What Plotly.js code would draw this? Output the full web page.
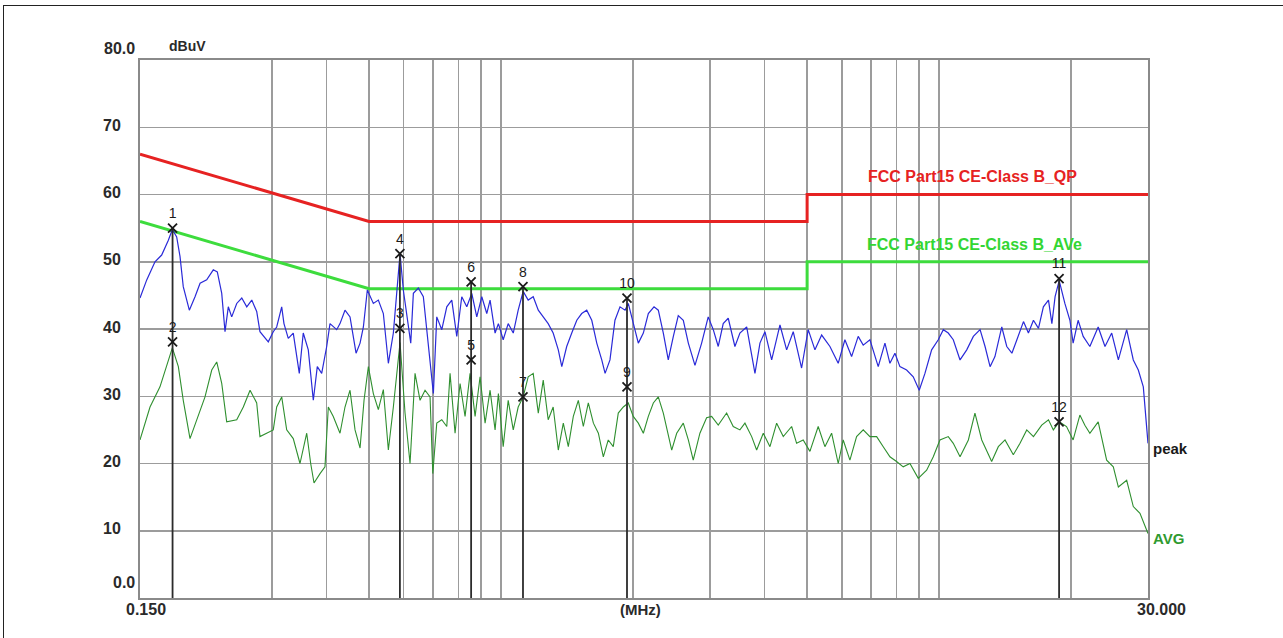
<!DOCTYPE html>
<html><head><meta charset="utf-8">
<script src="https://cdn.plot.ly/plotly-3.0.1.min.js"></script>
<style>
html,body{margin:0;padding:0;background:#fff;overflow:hidden}
#chart{position:absolute;left:0;top:0;width:1283px;height:638px}
#frame{position:absolute;left:3px;top:5px;width:1300px;height:650px;border-top:1.5px solid #222;border-left:1.5px solid #222;pointer-events:none}
</style></head><body>
<div id="chart"></div><div id="frame"></div>
<script>
// ---- data (frequency in MHz, level in dBuV) ----
const peakFreq = [0.150,0.1554,0.1623,0.1681,0.1741,0.1778,0.1819,0.1851,0.1883,0.1944,
0.2003,0.2057,0.2130,0.2205,0.2252,0.2305,0.2345,0.2386,0.2429,0.2494,
0.2561,0.2629,0.2699,0.2770,0.2818,0.2944,0.3022,0.3077,0.3159,0.3197,
0.3270,0.3357,0.3465,0.3538,0.3633,0.3730,0.3809,0.3898,0.4002,0.4072,
0.4218,0.4292,0.4406,0.4524,0.4670,0.4769,0.4853,0.4955,0.5114,0.5250,
0.5390,0.5534,0.5681,0.5783,0.5884,0.5987,0.6095,0.6225,0.6311,0.6479,
0.6651,0.6771,0.6916,0.7011,0.7137,0.7328,0.7523,0.7723,0.7929,0.8140,
0.8357,0.8579,0.8808,0.9043,0.9283,0.9446,0.9698,0.9868,1.012,1.039,
1.067,1.095,1.124,1.154,1.185,1.217,1.249,1.282,1.316,1.352,
1.377,1.413,1.451,1.490,1.529,1.570,1.612,1.655,1.699,1.729,
1.774,1.821,1.870,1.920,1.953,2.005,2.059,2.114,2.170,2.236,
2.287,2.348,2.410,2.475,2.540,2.608,2.678,2.773,2.872,2.973,
3.053,3.134,3.217,3.303,3.421,3.512,3.639,3.801,3.902,4.006,
4.150,4.335,4.490,4.648,4.857,5.029,5.210,5.397,5.637,5.888,
6.098,6.317,6.540,6.715,6.956,7.266,7.527,7.727,7.933,8.144,
8.436,8.734,9.014,9.288,9.621,9.963,10.23,10.50,10.78,11.17,
11.57,11.98,12.41,12.74,13.08,13.42,13.91,14.28,14.67,15.06,
15.59,16.00,16.43,16.87,17.31,17.78,18.10,18.41,18.81,19.38,
19.90,20.24,20.78,21.34,22.10,23.09,23.93,24.79,25.67,26.82,
27.77,28.51,29.27,30.0];
const peakVal = [44.6,47.3,50.0,51.0,53.2,54.8,53.7,50.8,46.3,42.8,
44.8,46.8,47.3,48.8,48.5,45.3,39.6,43.3,41.8,43.8,
44.6,43.3,44.3,42.6,39.6,38.1,39.6,40.3,43.3,40.8,
38.6,39.4,33.4,39.4,36.9,29.4,34.4,33.4,37.4,40.8,
39.9,40.8,42.8,41.8,36.4,37.9,40.3,45.8,43.8,44.3,
42.3,34.9,39.4,45.8,51.2,45.8,42.3,37.9,45.3,46.1,
44.8,39.9,34.9,30.4,41.8,39.9,43.3,44.3,38.9,44.8,
43.3,45.3,41.8,44.8,42.3,44.3,39.4,40.8,38.4,40.8,
39.4,42.8,45.6,44.3,44.8,42.8,41.8,40.8,39.4,36.9,
34.4,37.4,39.4,41.3,42.3,42.8,41.3,37.9,35.4,33.4,
35.4,41.3,43.3,42.8,43.8,40.8,37.9,39.4,42.3,43.3,
42.8,39.4,35.4,38.9,42.0,41.3,37.9,34.6,37.9,41.8,
39.9,37.4,40.8,41.6,37.4,39.4,40.3,33.4,37.9,39.6,
35.4,40.6,36.9,39.6,34.2,39.9,36.9,39.1,37.4,34.9,
38.4,35.9,38.9,37.6,38.4,34.4,37.9,34.9,36.4,34.4,
33.9,32.9,30.9,33.4,36.9,38.4,39.9,39.4,38.4,35.4,
36.9,38.9,39.9,37.4,34.4,35.9,40.3,37.4,36.4,38.4,
41.1,39.4,41.3,40.1,43.3,44.3,40.8,44.8,47.2,43.8,
41.3,37.9,41.3,38.9,37.4,40.3,37.4,39.4,35.4,39.9,
35.4,33.9,31.4,23.0];

const avgFreq = [0.150,0.1581,0.1666,0.1726,0.1778,0.1835,0.1883,0.1951,0.2021,0.2111,
0.2187,0.2245,0.2305,0.2366,0.2494,0.2582,0.2675,0.2770,0.2818,0.2919,
0.3022,0.3077,0.3159,0.3243,0.3357,0.3478,0.3603,0.3679,0.3744,0.3864,
0.3966,0.4036,0.4143,0.4292,0.4406,0.4524,0.4645,0.4769,0.4870,0.4982,
0.5114,0.5250,0.5390,0.5534,0.5681,0.5884,0.6041,0.6202,0.6367,0.6537,
0.6711,0.6890,0.6990,0.7137,0.7328,0.7523,0.7654,0.7858,0.8067,0.8282,
0.8503,0.8730,0.8962,0.9201,0.9446,0.9698,0.9868,1.012,1.039,1.067,
1.095,1.124,1.154,1.185,1.217,1.249,1.282,1.316,1.352,1.388,
1.425,1.463,1.502,1.542,1.583,1.626,1.669,1.713,1.758,1.805,
1.853,1.903,1.953,2.005,2.059,2.114,2.170,2.228,2.287,2.348,
2.454,2.519,2.608,2.678,2.748,2.846,2.948,3.027,3.134,3.275,
3.391,3.512,3.606,3.736,3.835,3.971,4.113,4.260,4.411,4.609,
4.731,4.898,5.074,5.300,5.490,5.687,5.888,6.044,6.261,6.485,
6.715,6.956,7.206,7.460,7.727,8.000,8.286,8.584,8.967,9.372,
9.705,10.05,10.50,10.78,11.17,11.67,12.08,12.52,12.85,13.19,
13.66,14.15,14.78,15.31,15.86,16.43,17.16,17.78,18.24,18.81,
19.55,20.24,20.97,21.53,22.10,23.09,24.14,25.00,25.67,26.82,
27.77,28.76,30.0];
const avgVal = [23.5,28.4,31.4,34.4,37.2,34.4,29.4,23.7,26.5,29.9,
33.9,35.1,31.9,26.2,26.5,28.4,30.9,29.0,24.0,24.5,
25.0,28.4,29.9,25.0,23.7,20.0,24.5,20.0,17.1,18.5,
19.5,28.4,27.0,24.5,28.4,30.9,25.0,22.3,29.4,34.4,
30.4,28.0,31.0,22.0,28.4,38.0,27.5,20.0,33.4,29.4,
30.9,29.9,18.5,26.0,26.5,25.5,33.4,24.5,31.9,27.0,
33.4,27.0,32.9,26.0,30.9,25.0,30.4,22.5,29.4,25.0,
28.4,29.9,32.9,33.4,27.5,32.4,26.5,28.4,22.0,26.0,
22.5,27.0,29.4,25.5,29.0,26.0,24.5,21.0,23.5,22.5,
27.5,28.4,29.0,27.0,26.0,24.5,27.0,29.0,29.9,27.5,
22.0,24.5,26.0,23.5,20.5,24.5,26.8,27.0,25.7,27.5,
25.5,25.0,26.0,24.0,22.0,24.5,22.5,26.0,24.0,25.5,
23.0,23.5,21.8,25.5,22.5,24.5,20.0,23.5,20.5,24.0,
25.0,24.0,24.0,22.5,21.0,20.3,19.5,20.0,17.8,19.0,
21.0,23.5,24.0,23.0,21.0,23.5,27.5,23.5,22.0,20.3,
22.5,23.5,21.3,23.0,25.0,24.0,25.7,26.5,25.0,26.2,
25.5,23.5,27.2,25.7,24.5,26.2,20.5,19.5,16.5,17.5,
13.6,12.6,9.6];

// limit lines
const qpLimitFreq = [0.15, 0.5, 5, 5, 30];
const qpLimitVal  = [66, 56, 56, 60, 60];
const avLimitFreq = [0.15, 0.5, 5, 5, 30];
const avLimitVal  = [56, 46, 46, 50, 50];
const qpLimitName = 'FCC Part15 CE-Class B_QP';
const avLimitName = 'FCC Part15 CE-Class B_AVe';

// markers
const markerNo   = ['1','2','3','4','5','6','7','8','9','10','11','12'];
const markerFreq = [0.178,0.178,0.588,0.588,0.855,0.855,1.123,1.123,1.94,1.94,18.8,18.8];
const markerVal  = [55.0,38.1,40.1,51.2,35.4,47.0,29.9,46.3,31.4,44.6,47.5,26.2];

// axes
const xGrid = [0.3,0.4,0.5,0.6,0.7,0.8,0.9,1,2,3,4,5,6,7,8,9,10,20];
const yGrid = [10,20,30,40,50,60,70];
const yLabelVals = [80,70,60,50,40,30,20,10,0];
const yLabelText = ['80.0','70','60','50','40','30','20','10','0.0'];
const xStartLabel = '0.150', xEndLabel = '30.000', xUnit = '(MHz)', yUnit = 'dBuV';

// ---- build ----
const F = 'Liberation Sans, Arial, sans-serif';
const traces = [];
traces.push({x:qpLimitFreq, y:qpLimitVal, mode:'lines', line:{color:'#e62222', width:3}, hoverinfo:'skip'});
traces.push({x:avLimitFreq, y:avLimitVal, mode:'lines', line:{color:'#3ddc3d', width:3}, hoverinfo:'skip'});
traces.push({x:avgFreq, y:avgVal, mode:'lines', line:{color:'#2f8f2f', width:1.1}, name:'AVG'});
traces.push({x:peakFreq, y:peakVal, mode:'lines', line:{color:'#2a2ad8', width:1.2}, name:'peak'});

// vertical marker lines from the axis to the highest marker at each frequency
const markerTop = {};
markerFreq.forEach((f,i)=>{ markerTop[f] = Math.max(markerTop[f]||0, markerVal[i]); });
const lx=[], ly=[];
Object.keys(markerTop).forEach(k=>{ const f=parseFloat(k); lx.push(f,f,null); ly.push(0,markerTop[k],null); });
traces.push({x:lx, y:ly, mode:'lines', line:{color:'#2b2b2b', width:1.8}, hoverinfo:'skip'});

traces.push({x:markerFreq, y:markerVal, mode:'markers+text', text:markerNo, textposition:'top center',
  textfont:{family:F, size:14, color:'#1a1a1a'},
  marker:{symbol:'x-thin-open', size:9, color:'#1a1a1a', line:{color:'#1a1a1a', width:1.8}}, cliponaxis:false});

const ann = [];
const px = v => (v-140)/1008, py = v => (598-v)/538;
const lab = {family:F, size:16, color:'#2a2a2a', weight:'bold'};
yLabelVals.forEach((v,i)=>{
  const edge = (v===80||v===0);
  ann.push({xref:'paper', yref:'y', x: edge?px(137):px(101), y:v, xanchor: edge?'right':'left', yanchor:'middle',
    yshift: v===80?12:(v===0?16:2), text:yLabelText[i], showarrow:false, font:lab});
});
ann.push({xref:'paper', yref:'paper', x:px(167), y:py(46), xanchor:'left', yanchor:'middle', text:yUnit, showarrow:false, font:{family:F, size:14, color:'#2a2a2a', weight:'bold'}});
ann.push({xref:'paper', yref:'paper', x:px(146), y:py(609), xanchor:'center', yanchor:'middle', text:xStartLabel, showarrow:false, font:lab});
ann.push({xref:'paper', yref:'paper', x:px(640), y:py(609), xanchor:'center', yanchor:'middle', text:xUnit, showarrow:false, font:{family:F, size:15, color:'#2a2a2a', weight:'bold'}});
ann.push({xref:'paper', yref:'paper', x:px(1161), y:py(609), xanchor:'center', yanchor:'middle', text:xEndLabel, showarrow:false, font:lab});
ann.push({xref:'paper', yref:'paper', x:px(972), y:py(176), xanchor:'center', yanchor:'middle', text:qpLimitName, showarrow:false, font:{family:F, size:16, color:'#e62222', weight:'bold'}});
ann.push({xref:'paper', yref:'paper', x:px(974), y:py(244), xanchor:'center', yanchor:'middle', text:avLimitName, showarrow:false, font:{family:F, size:16, color:'#33d633', weight:'bold'}});
ann.push({xref:'paper', yref:'paper', x:px(1151), y:py(448), xanchor:'left', yanchor:'middle', text:'peak', showarrow:false, font:{family:F, size:15, color:'#1a1a1a', weight:'bold'}});
ann.push({xref:'paper', yref:'paper', x:px(1151), y:py(538), xanchor:'left', yanchor:'middle', text:'AVG', showarrow:false, font:{family:F, size:15, color:'#2f9a2f', weight:'bold'}});

const axisCommon = {showticklabels:false, ticks:'', showgrid:true, gridcolor:'#9c9c9c', gridwidth:1.5,
  showline:true, mirror:true, linecolor:'#8a8a8a', linewidth:2, zeroline:false, fixedrange:true};
const layout = {
  width:1283, height:638, margin:{l:140, r:135, t:60, b:40, pad:0},
  paper_bgcolor:'#ffffff', plot_bgcolor:'#ffffff', showlegend:false,
  xaxis:Object.assign({type:'log', range:[Math.log10(0.15), Math.log10(30)], tickvals:xGrid}, axisCommon),
  yaxis:Object.assign({range:[0,80], tickvals:yGrid}, axisCommon),
  annotations:ann
};
Plotly.newPlot('chart', traces, layout, {displayModeBar:false, staticPlot:true});
</script>
</body></html>
